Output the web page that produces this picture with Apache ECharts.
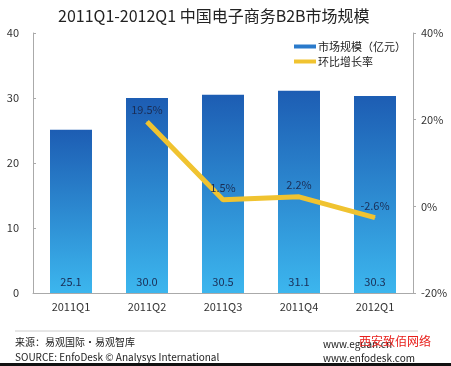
<!DOCTYPE html>
<html><head><meta charset="utf-8">
<script src="https://cdn.jsdelivr.net/npm/echarts@6/dist/echarts.min.js"></script>
<style>html,body{margin:0;padding:0;background:#fff}#c{width:451px;height:366px}</style>
</head><body><div id="c"></div>
<script>
const categories = ['2011Q1','2011Q2','2011Q3','2011Q4','2012Q1'];
const marketSize = [25.1, 30.0, 30.5, 31.1, 30.3];
const growthRate = [null, 19.5, 1.5, 2.2, -2.6];
const leftTicks = [0, 10, 20, 30, 40];
const rightTicks = [-20, 0, 20, 40];
const titleText = '2011Q1-2012Q1 中国电子商务B2B市场规模';
const seriesNames = ['市场规模（亿元）', '环比增长率'];

const chart = echarts.init(document.getElementById('c'));
const font = '"Noto Sans CJK SC", "Open Sans", sans-serif';
chart.setOption({
  animation: false,
  backgroundColor: '#fff',
  title: { text: titleText, left: 53, top: 3,
    textStyle: { fontSize: 16, fontWeight: 'normal', color: '#222', fontFamily: font } },
  legend: {
    orient: 'vertical', left: 289, top: 36, itemGap: 4, itemWidth: 22, itemHeight: 4,
    textStyle: { fontSize: 11, color: '#222', fontFamily: font, padding: [0,0,0,-3] },
    data: [
      { name: seriesNames[0], icon: 'rect', itemStyle: { color: '#2A7ACB' } },
      { name: seriesNames[1], icon: 'rect', itemStyle: { color: '#F0C330' } }
    ]
  },
  grid: { left: 33, right: 38, top: 33, bottom: 73 },
  xAxis: {
    type: 'category', data: categories,
    axisLine: { lineStyle: { color: '#aaa' } },
    axisTick: { show: false },
    axisLabel: { color: '#333', fontSize: 11, margin: 8, fontFamily: font }
  },
  yAxis: [
    { type: 'value', min: 0, max: 40, interval: 10, position: 'left',
      splitLine: { show: false },
      axisLine: { show: true, lineStyle: { color: '#aaa' } },
      axisTick: { show: true, inside: true, length: 3, lineStyle: { color: '#aaa' } },
      axisLabel: { color: '#333', fontSize: 11, margin: 14, fontFamily: font } },
    { type: 'value', min: -20, max: 40, interval: 20, position: 'right',
      splitLine: { show: false },
      axisLine: { show: true, lineStyle: { color: '#aaa' } },
      axisTick: { show: true, length: 3, lineStyle: { color: '#aaa' } },
      axisLabel: { color: '#333', fontSize: 11, margin: 8, formatter: '{value}%', fontFamily: font } }
  ],
  series: [
    { name: seriesNames[0], type: 'bar', data: marketSize, barWidth: 42, yAxisIndex: 0,
      itemStyle: { color: new echarts.graphic.LinearGradient(0,0,0,1,[
        { offset: 0, color: '#1D5DB3' }, { offset: 1, color: '#3CB6EE' }]) },
      label: { show: true, position: 'insideBottom', distance: 6, color: '#1a2d55', fontSize: 11,
        fontFamily: font, formatter: p => p.value.toFixed(1) } },
    { name: seriesNames[1], type: 'line', data: growthRate, yAxisIndex: 1,
      showSymbol: true, symbol: 'circle', symbolSize: 1, lineStyle: { color: '#F0C330', width: 5 },
      itemStyle: { color: '#F0C330' },
      label: { show: true, position: 'top', distance: 6, color: '#1a2d55', fontSize: 11,
        fontFamily: font, formatter: p => p.value.toFixed(1) + '%' } }
  ],
  graphic: [
    { type: 'line', shape: { x1: 15, y1: 331, x2: 418, y2: 331 }, style: { stroke: '#ccc', lineWidth: 1 } },
    { type: 'text', left: 15, top: 337, style: { text: '来源：易观国际·易观智库', fontSize: 10, fill: '#222', fontFamily: font } },
    { type: 'text', left: 15, top: 352, style: { text: 'SOURCE: EnfoDesk © Analysys International', fontSize: 10, fill: '#222', fontFamily: font } },
    { type: 'text', left: 323, top: 339, style: { text: 'www.eguan.cn', fontSize: 10, fill: '#222', fontFamily: font } },
    { type: 'text', left: 323, top: 353, style: { text: 'www.enfodesk.com', fontSize: 10, fill: '#222', fontFamily: font } },
    { type: 'text', left: 359, top: 335, style: { text: '西安致佰网络', fontSize: 12, fill: '#e8201c', fontFamily: font } },
    { type: 'rect', shape: { x: 0, y: 363, width: 451, height: 3 }, style: { fill: '#111' } }
  ]
});
</script></body></html>
